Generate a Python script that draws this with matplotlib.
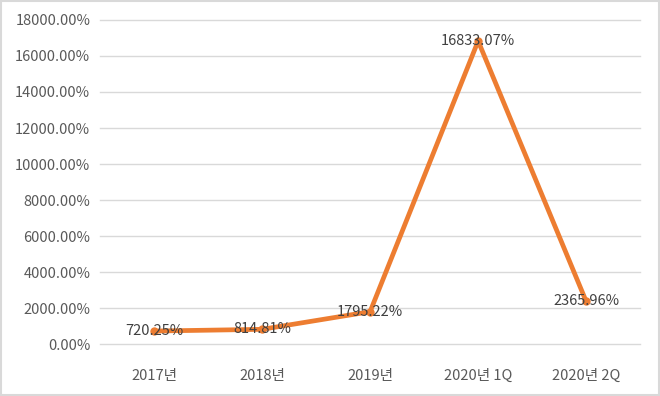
import matplotlib
matplotlib.use("Agg")
import matplotlib.pyplot as plt
from matplotlib.patches import Rectangle

plt.rcParams['font.family'] = ['Noto Sans CJK KR', 'DejaVu Sans']

categories = ["2017년", "2018년", "2019년", "2020년 1Q", "2020년 2Q"]
values = [720.25, 814.81, 1795.22, 16833.07, 2365.96]
labels = ["720.25%", "814.81%", "1795.22%", "16833.07%", "2365.96%"]
yticks = [0, 2000, 4000, 6000, 8000, 10000, 12000, 14000, 16000, 18000]

fig = plt.figure(figsize=(6.6, 3.96), dpi=100)
ax = fig.add_axes([0.1515, 0.1313, 0.8185, 0.8182])

x = list(range(len(categories)))
ax.plot(x, values, color='#ED7D31', linewidth=3.4, marker='o', markersize=5,
        solid_joinstyle='round', solid_capstyle='round', zorder=3)
for xi, v, lab in zip(x, values, labels):
    ax.text(xi, v, lab, ha='center', va='center', fontsize=10.5, color='#404040', zorder=4)

ax.set_xlim(-0.5, len(categories) - 0.5)
ax.set_ylim(0, 18000)
ax.set_yticks(yticks)
ax.set_yticklabels([f"{t:.2f}%" for t in yticks])
ax.set_xticks(x)
ax.set_xticklabels(categories)
ax.grid(axis='y', color='#D9D9D9', linewidth=1)
for gl in ax.get_ygridlines():
    gl.set_clip_on(False)
ax.set_axisbelow(True)
for s in ax.spines.values():
    s.set_visible(False)
ax.tick_params(axis='both', length=0, labelsize=10.5, colors='#595959')
ax.tick_params(axis='y', pad=7)
ax.tick_params(axis='x', pad=18)

fig.patches.append(Rectangle((0.002, 0.003), 0.996, 0.994, transform=fig.transFigure,
                             fill=False, edgecolor='#D9D9D9', linewidth=1.5))
fig.savefig("out.png", dpi=100)
